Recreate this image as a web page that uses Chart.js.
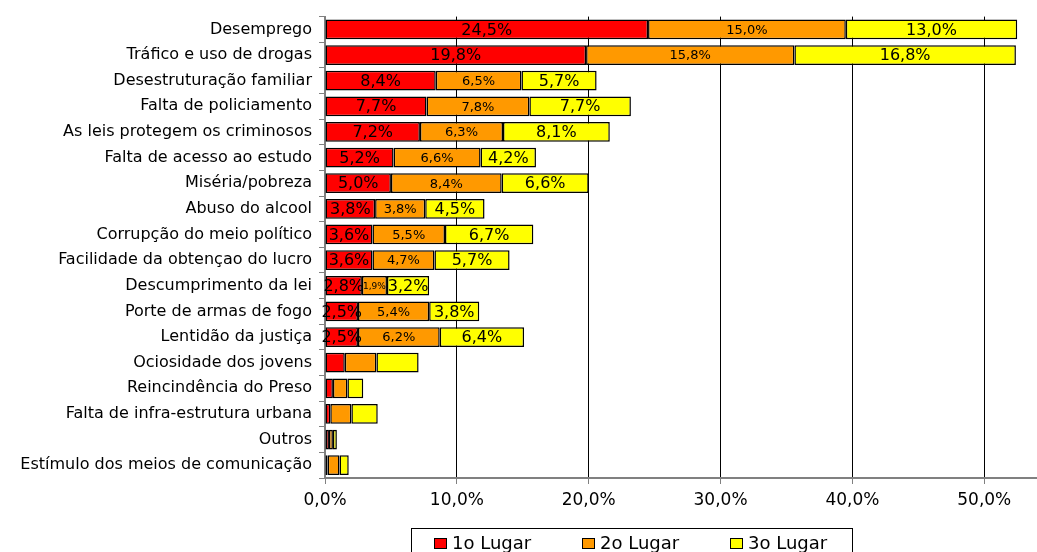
<!DOCTYPE html>
<html>
<head>
<meta charset="utf-8">
<script src="https://cdn.jsdelivr.net/npm/chart.js@4.4.1/dist/chart.umd.min.js"></script>
<style>
  html, body { margin: 0; padding: 0; background: #fff; }
  #wrap { position: relative; width: 1037px; height: 552px; }
</style>
</head>
<body>
<div id="wrap"><canvas id="chart"></canvas></div>
<script>
const categories = [
  'Desemprego',
  'Tráfico e uso de drogas',
  'Desestruturação familiar',
  'Falta de policiamento',
  'As leis protegem os criminosos',
  'Falta de acesso ao estudo',
  'Miséria/pobreza',
  'Abuso do alcool',
  'Corrupção do meio político',
  'Facilidade da obtençao do lucro',
  'Descumprimento da lei',
  'Porte de armas de fogo',
  'Lentidão da justiça',
  'Ociosidade dos jovens',
  'Reincindência do Preso',
  'Falta de infra-estrutura urbana',
  'Outros',
  'Estímulo dos meios de comunicação'
];
const seriesNames = ['1o Lugar', '2o Lugar', '3o Lugar'];
const firstPlace  = [24.5, 19.8, 8.4, 7.7, 7.2, 5.2, 5.0, 3.8, 3.6, 3.6, 2.8, 2.5, 2.5, 1.5, 0.6, 0.4, 0.3, 0.2];
const secondPlace = [15.0, 15.8, 6.5, 7.8, 6.3, 6.6, 8.4, 3.8, 5.5, 4.7, 1.9, 5.4, 6.2, 2.4, 1.1, 1.6, 0.3, 0.9];
const thirdPlace  = [13.0, 16.8, 5.7, 7.7, 8.1, 4.2, 6.6, 4.5, 6.7, 5.7, 3.2, 3.8, 6.4, 3.2, 1.2, 2.0, 0.3, 0.7];
const xTicks = [0, 10, 20, 30, 40, 50];
const labelledRows = 13;

const colors = ['#ff0000', '#ff9900', '#ffff00'];
const FONT = "'DejaVu Sans', 'Liberation Sans', Arial, sans-serif";

const fmt = v => v.toFixed(1).replace('.', ',') + '%';

// value labels inside the segments (only the first rows carry them)
const segmentLabels = {
  id: 'segmentLabels',
  afterDatasetsDraw(chart) {
    const ctx = chart.ctx;
    ctx.save();
    ctx.fillStyle = '#000';
    ctx.textAlign = 'center';
    ctx.textBaseline = 'middle';
    chart.data.datasets.forEach((ds, i) => {
      const meta = chart.getDatasetMeta(i);
      meta.data.forEach((bar, j) => {
        if (j >= labelledRows) return;
        const txt = fmt(ds.data[j]);
        let size = i === 1 ? 13 : 16;
        ctx.font = size + 'px ' + FONT;
        const segW = Math.abs(bar.x - bar.base);
        if (i === 1) {
          const w = ctx.measureText(txt).width;
          if (w > segW) {
            size = Math.max(8, Math.floor(size * segW / w));
            ctx.font = size + 'px ' + FONT;
          }
        }
        ctx.fillText(txt, (bar.x + bar.base) / 2, bar.y + 1);
      });
    });
    ctx.restore();
  }
};

// boxed legend under the axis
const boxedLegend = {
  id: 'boxedLegend',
  afterDraw(chart) {
    const ctx = chart.ctx;
    ctx.save();
    ctx.strokeStyle = '#000';
    ctx.lineWidth = 1;
    ctx.strokeRect(411.5, 528.5, 441, 40);
    ctx.font = '18px ' + FONT;
    ctx.textBaseline = 'middle';
    ctx.textAlign = 'left';
    let x = 434;
    chart.data.datasets.forEach(ds => {
      ctx.fillStyle = ds.backgroundColor;
      ctx.fillRect(x + 0.5, 538.5, 12, 10);
      ctx.strokeStyle = '#000';
      ctx.strokeRect(x + 0.5, 538.5, 12, 10);
      ctx.fillStyle = '#000';
      ctx.fillText(ds.label, x + 18, 544);
      x += 148;
    });
    ctx.restore();
  }
};

const datasets = [firstPlace, secondPlace, thirdPlace].map((d, i) => ({
  label: seriesNames[i],
  data: d,
  backgroundColor: colors[i],
  borderColor: '#000',
  borderWidth: 1.5,
  borderSkipped: false,
  categoryPercentage: 1,
  barPercentage: 0.77
}));

new Chart(document.getElementById('chart'), {
  type: 'bar',
  data: { labels: categories, datasets: datasets },
  options: {
    indexAxis: 'y',
    responsive: true,
    maintainAspectRatio: false,
    animation: false,
    layout: { padding: { top: 11, right: 0, bottom: 0, left: 0 } },
    scales: {
      x: {
        stacked: true,
        min: 0,
        max: 54,
        afterBuildTicks: scale => {
          scale.ticks = xTicks.map(v => ({ value: v }));
        },
        afterFit: scale => { scale.height = 74; },
        grid: { color: '#000', lineWidth: 1, tickColor: '#808080', tickLength: 6 },
        border: { color: '#808080', width: 2 },
        ticks: {
          color: '#000',
          padding: 6,
          maxRotation: 0,
          autoSkip: false,
          font: { family: FONT, size: 17 },
          callback: v => v.toFixed(1).replace('.', ',') + '%'
        }
      },
      y: {
        stacked: true,
        afterFit: scale => { scale.width = 325; },
        grid: { offset: true, drawOnChartArea: false, color: '#808080', tickLength: 6 },
        border: { color: '#808080', width: 2 },
        ticks: {
          color: '#000',
          padding: 7,
          autoSkip: false,
          font: { family: FONT, size: 16 }
        }
      }
    },
    plugins: {
      legend: { display: false },
      tooltip: { enabled: false }
    }
  },
  plugins: [segmentLabels, boxedLegend]
});
</script>
</body>
</html>
